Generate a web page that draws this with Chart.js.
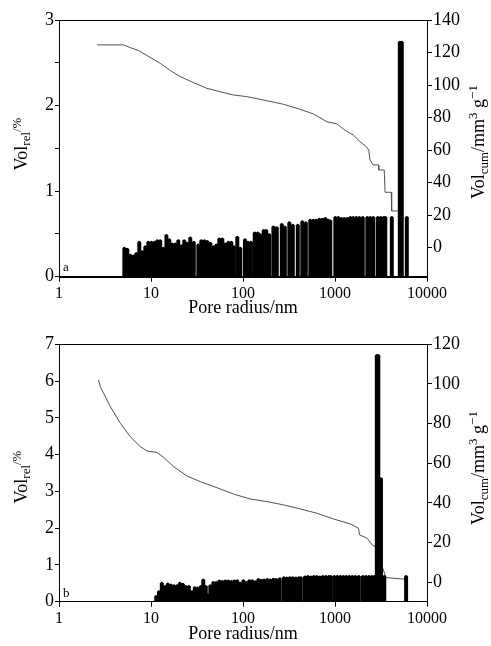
<!DOCTYPE html>
<html lang="en">
<head>
<meta charset="UTF-8" />
<title>Pore size distribution</title>
<script src="https://cdn.jsdelivr.net/npm/chart.js"></script>
<style>
  body { margin: 0; background: #fff; }
  #page { position: relative; width: 491px; height: 646px; font-family: "Liberation Serif", "Times New Roman", serif; color: #000; }
  canvas { position: absolute; left: 0; }
  .ytitle { position: absolute; white-space: nowrap; font-size: 18px; line-height: 1; transform: translate(-50%, -50%) rotate(-90deg); }
  .ytitle sub { font-size: 0.72em; vertical-align: -0.3em; }
  .ytitle sup { font-size: 0.72em; vertical-align: 0.5em; }
  .ytitle .pct { font-size: 0.72em; vertical-align: 0.45em; }
  .tag { position: absolute; font-size: 13px; }
</style>
</head>
<body>
<div id="page">
  <canvas id="chartA" width="491" height="320" style="top:0"></canvas>
  <canvas id="chartB" width="491" height="326" style="top:320px"></canvas>

  <div class="ytitle" style="left:22px;top:144px">Vol<sub>rel</sub><span class="pct">/%</span></div>
  <div class="ytitle" style="left:479px;top:142px">Vol<sub>cum</sub>/mm<sup>3</sup> g<sup>−1</sup></div>
  <div class="tag" style="left:63px;top:259px">a</div>

  <div class="ytitle" style="left:22px;top:477px">Vol<sub>rel</sub><span class="pct">/%</span></div>
  <div class="ytitle" style="left:479px;top:468px">Vol<sub>cum</sub>/mm<sup>3</sup> g<sup>−1</sup></div>
  <div class="tag" style="left:63px;top:585px">b</div>
</div>

<script>
  const xTicks = [1, 10, 100, 1000, 10000];

  // panel a
  const radiusA = [5.13, 5.53, 5.96, 6.42, 6.92, 7.46, 8.04, 8.67, 9.35, 10.1,
    10.9, 11.7, 12.6, 13.6, 14.7, 15.8, 17.0, 18.4, 19.8, 21.4,
    23.0, 24.8, 26.7, 29.2, 32.7, 35.2, 38.0, 40.9, 44.1, 47.6,
    51.3, 55.3, 59.6, 64.2, 69.2, 74.6, 79.4, 86.7, 93.5, 105,
    113, 122, 134, 145, 154, 168, 179, 193, 214, 233,
    264, 285, 319, 348, 394, 441, 482, 539, 581, 626,
    675, 728, 785, 846, 889, 1008, 1086, 1171, 1262, 1361,
    1467, 1581, 1704, 1837, 2005, 2244, 2419, 2608, 2919, 3147,
    3392, 3522, 4143, 5062, 5322, 6032];
  const relA = [0.33, 0.32, 0.25, 0.24, 0.27, 0.40, 0.29, 0.35, 0.40, 0.40,
    0.40, 0.42, 0.42, 0.33, 0.48, 0.43, 0.38, 0.38, 0.42, 0.36,
    0.42, 0.39, 0.45, 0.40, 0.37, 0.42, 0.42, 0.41, 0.39, 0.35,
    0.37, 0.44, 0.44, 0.38, 0.40, 0.40, 0.35, 0.46, 0.33, 0.43,
    0.40, 0.40, 0.51, 0.51, 0.49, 0.54, 0.54, 0.49, 0.58, 0.57,
    0.61, 0.58, 0.63, 0.60, 0.60, 0.64, 0.63, 0.66, 0.66, 0.66,
    0.67, 0.67, 0.68, 0.66, 0.65, 0.69, 0.69, 0.68, 0.68, 0.68,
    0.69, 0.69, 0.69, 0.69, 0.69, 0.69, 0.69, 0.69, 0.69, 0.69,
    0.69, 0.69, 0.69, 2.74, 2.74, 0.69];
  const cumRadiusA = [2.59, 5.04, 5.96, 7.33, 9.8, 12.6, 16.2, 20.8, 29, 40.4,
    56.6, 78.8, 110, 181, 276, 418, 585, 813, 1050, 1240,
    1580, 1870, 2200, 2330, 2400, 2600, 2970, 2990, 3430, 3500,
    4090, 4130, 4950];
  const cumA = [124.7, 124.7, 123, 121.2, 117, 113.4, 108.9, 105.2, 101.5, 98,
    95.9, 93.9, 92.9, 90.4, 88.2, 85.1, 82.2, 77.5, 76.1, 72.8,
    69.3, 65.2, 62, 60, 54, 50.9, 50.9, 47.8, 47.8, 34.1,
    34.1, 22.6, 22.6];
  const leftTicksA = [0, 0.5, 1, 1.5, 2, 2.5, 3];
  const rightTicksA = [0, 20, 40, 60, 80, 100, 120, 140];

  // panel b
  const radiusB = [11.4, 12.2, 13.1, 14.1, 15.2, 16.4, 17.7, 19.1, 20.6, 22.2,
    23.9, 25.8, 27.8, 29.9, 32.3, 34.8, 37.0, 39.4, 41.4, 44.1,
    47.6, 51.3, 55.3, 59.6, 64.2, 69.2, 74.6, 80.4, 86.7, 93.5,
    101, 109, 117, 126, 136, 147, 158, 170, 184, 198,
    214, 230, 251, 278, 299, 323, 348, 375, 404, 425,
    470, 506, 546, 588, 634, 684, 737, 794, 856, 900,
    983, 1059, 1142, 1231, 1327, 1430, 1542, 1662, 1815,
    2005, 2162, 2330, 2512, 2674,
    2847, 2956, 3162, 3435, 5928];
  const relB = [0.14, 0.27, 0.50, 0.41, 0.48, 0.45, 0.43, 0.43, 0.50, 0.47,
    0.41, 0.41, 0.27, 0.38, 0.37, 0.41, 0.59, 0.41, 0.18, 0.43,
    0.52, 0.52, 0.56, 0.55, 0.56, 0.56, 0.55, 0.56, 0.57, 0.50,
    0.57, 0.52, 0.57, 0.57, 0.54, 0.60, 0.58, 0.59, 0.60, 0.59,
    0.61, 0.60, 0.62, 0.65, 0.64, 0.65, 0.65, 0.64, 0.65, 0.65,
    0.67, 0.68, 0.67, 0.68, 0.68, 0.67, 0.68, 0.68, 0.68, 0.68,
    0.68, 0.68, 0.68, 0.68, 0.68, 0.68, 0.68, 0.68, 0.68,
    0.68, 0.68, 0.68, 0.68, 0.68,
    6.69, 6.69, 3.34, 0.68, 0.68];
  const cumRadiusB = [2.69, 2.81, 3.61, 4.64, 5.96, 7.65, 9.04, 11.6, 13.7, 17.6,
    24.6, 34.1, 52, 78.8, 120, 181, 276, 418, 636, 966,
    1470, 1800, 1850, 2230, 2540, 2750, 3580, 5840];
  const cumB = [102, 98.7, 88.6, 80.2, 73.4, 68.4, 66.2, 65.5, 63, 58.3,
    53.6, 50.8, 47.7, 44.5, 42, 40.7, 39, 37, 34.8, 31.9,
    29.4, 27.2, 23.9, 22.2, 18.8, 18, 2.35, 1.5];
  const leftTicksB = [0, 1, 2, 3, 4, 5, 6, 7];
  const rightTicksB = [0, 20, 40, 60, 80, 100, 120];

  Chart.defaults.font.family = '"Liberation Serif", "Times New Roman", serif';
  Chart.defaults.color = "#000";

  // box round the plot area
  const frame = {
    id: "frame",
    afterDatasetsDraw(chart) {
      const a = chart.chartArea;
      const ctx = chart.ctx;
      ctx.save();
      ctx.strokeStyle = "#000";
      ctx.lineWidth = 1;
      ctx.strokeRect(Math.round(a.left) + 0.5, Math.round(a.top) + 0.5,
        Math.round(a.right - a.left), Math.round(a.bottom - a.top));
      ctx.restore();
    },
  };

  function pairs(xs, ys) {
    return xs.map((x, i) => ({ x: x, y: ys[i] }));
  }

  function makeChart(id, p) {
    const bars = pairs(p.radius, p.rel);
    return new Chart(document.getElementById(id), {
      type: "bar",
      data: {
        datasets: [
          {
            type: "line",
            data: pairs(p.cumRadius, p.cum),
            yAxisID: "y1",
            borderColor: "#505050",
            borderWidth: 1,
            pointRadius: 0,
            tension: 0,
            order: 3,
          },
          {
            type: "bar",
            data: bars,
            yAxisID: "y",
            backgroundColor: "#000",
            borderWidth: 0,
            barThickness: 3.3,
            order: 2,
          },
          {
            type: "line",
            data: bars,
            yAxisID: "y",
            showLine: false,
            pointRadius: 1.6,
            pointBackgroundColor: "#000",
            pointBorderWidth: 0,
            order: 1,
          },
        ],
      },
      options: {
        responsive: false,
        animation: false,
        layout: { padding: { top: p.top, left: 0, right: 0, bottom: 0 } },
        plugins: { legend: { display: false }, tooltip: { enabled: false } },
        scales: {
          x: {
            type: "logarithmic",
            position: "bottom",
            min: 1,
            max: 10000,
            offset: false,
            afterBuildTicks: (s) => { s.ticks = xTicks.map((v) => ({ value: v })); },
            afterFit: (s) => { s.height = p.xHeight; },
            grid: { offset: false, drawOnChartArea: false, tickLength: 5, color: "#000" },
            border: { color: "#000", width: 1 },
            ticks: { font: { size: 16 }, padding: 2, maxRotation: 0, autoSkip: false, callback: (v) => String(v) },
            title: { display: true, text: "Pore radius/nm", font: { size: 18 }, padding: { top: 0, bottom: 1 } },
          },
          y: {
            type: "linear",
            position: "left",
            min: 0,
            max: p.leftTicks[p.leftTicks.length - 1],
            afterBuildTicks: (s) => { s.ticks = p.leftTicks.map((v) => ({ value: v })); },
            afterFit: (s) => { s.width = 59; },
            grid: { drawOnChartArea: false, tickLength: 4, color: "#000" },
            border: { color: "#000", width: 1 },
            ticks: { font: { size: 18 }, padding: 1, callback: (v) => (Number.isInteger(v) ? String(v) : "") },
          },
          y1: {
            type: "linear",
            position: "right",
            min: p.rightMin,
            max: p.rightTicks[p.rightTicks.length - 1],
            afterBuildTicks: (s) => { s.ticks = p.rightTicks.map((v) => ({ value: v })); },
            afterFit: (s) => { s.width = 64; },
            grid: { drawOnChartArea: false, tickLength: 5, color: "#000" },
            border: { color: "#000", width: 1 },
            ticks: { font: { size: 18 }, padding: 1, callback: (v) => String(v) },
          },
        },
      },
      plugins: [frame],
    });
  }

  makeChart("chartA", {
    radius: radiusA, rel: relA, cumRadius: cumRadiusA, cum: cumA,
    leftTicks: leftTicksA, rightTicks: rightTicksA, rightMin: -17.8,
    top: 20, xHeight: 43.3,
  });

  makeChart("chartB", {
    radius: radiusB, rel: relB, cumRadius: cumRadiusB, cum: cumB,
    leftTicks: leftTicksB, rightTicks: rightTicksB, rightMin: -9.8,
    top: 24.3, xHeight: 44.3,
  });
</script>
</body>
</html>
